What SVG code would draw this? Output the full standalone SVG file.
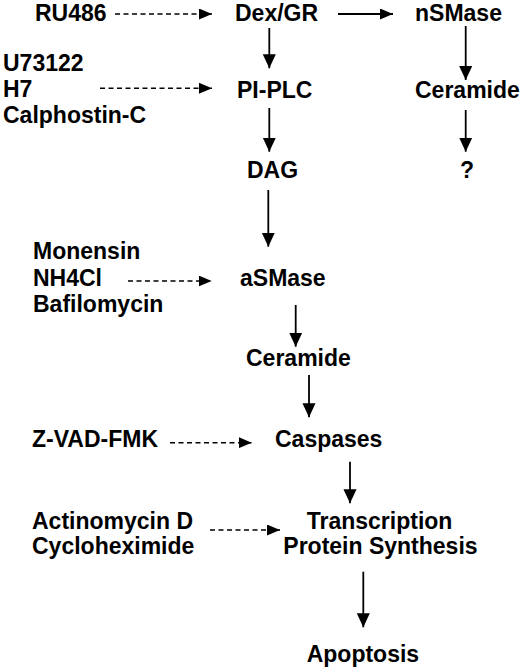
<svg xmlns="http://www.w3.org/2000/svg" width="520" height="670" viewBox="0 0 520 670">
<style>
text{font-family:"Liberation Sans",Arial,Helvetica,sans-serif;font-weight:bold;font-size:23px;fill:#000}
.s{stroke:#000;stroke-width:1.8;fill:none}
.d{stroke:#000;stroke-width:1.5;fill:none;stroke-dasharray:5 3.5}
.v{marker-end:url(#av)}
.h{marker-end:url(#ah)}
</style>
<defs>
<marker id="av" markerUnits="userSpaceOnUse" markerWidth="14" markerHeight="16" viewBox="0 0 15 14" refX="15" refY="7" orient="auto"><path d="M0,0L15,7L0,14Z" fill="#000"/></marker>
<marker id="ah" markerUnits="userSpaceOnUse" markerWidth="13" markerHeight="11" viewBox="0 0 13 11" refX="13" refY="5.5" orient="auto"><path d="M0,0L13,5.5L0,11Z" fill="#000"/></marker>
</defs>
<rect width="520" height="670" fill="#fff"/>
<g id="connectors">
<path class="d h" d="M115,14H212"/>
<path class="s h" d="M338,14H393"/>
<path class="d h" d="M100,88.3H212"/>
<path class="d h" d="M128,281H211.7"/>
<path class="d h" d="M170,442.7H251.7"/>
<path class="d h" d="M210,530H280"/>
<path class="s v" d="M269.3,28V68.3"/>
<path class="s v" d="M269.3,108V151.7"/>
<path class="s v" d="M268.3,190V246.7"/>
<path class="s v" d="M295.7,305V346.7"/>
<path class="s v" d="M309,375V417.3"/>
<path class="s v" d="M350,461.7V503.3"/>
<path class="s v" d="M363.3,571.7V627.3"/>
<path class="s v" d="M465.7,26V80"/>
<path class="s v" d="M465.7,110V151.7"/>
</g>
<g id="ru486"><text x="35" y="21">RU486</text></g>
<g id="dexgr"><text x="235" y="21">Dex/GR</text></g>
<g id="nsmase"><text x="415" y="21">nSMase</text></g>
<g id="plc-inhibitors"><text x="3" y="71">U73122</text><text x="3" y="97">H7</text><text x="3" y="123">Calphostin-C</text></g>
<g id="piplc"><text x="237" y="98">PI-PLC</text></g>
<g id="ceramide-n"><text x="415" y="98">Ceramide</text></g>
<g id="dag"><text x="247" y="178">DAG</text></g>
<g id="unknown"><text x="460" y="178">?</text></g>
<g id="lysosome-inhibitors"><text x="33" y="259.3">Monensin</text><text x="33" y="286">NH4Cl</text><text x="33" y="311.7">Bafilomycin</text></g>
<g id="asmase"><text x="240" y="286">aSMase</text></g>
<g id="ceramide-a"><text x="246" y="366">Ceramide</text></g>
<g id="zvad"><text x="32" y="447.3">Z-VAD-FMK</text></g>
<g id="caspases"><text x="275" y="447.3">Caspases</text></g>
<g id="synthesis-inhibitors"><text x="32" y="529">Actinomycin D</text><text x="32" y="554">Cycloheximide</text></g>
<g id="transcription"><text x="306.7" y="529">Transcription</text><text x="283.3" y="554">Protein Synthesis</text></g>
<g id="apoptosis"><text x="306.7" y="662.3">Apoptosis</text></g>
</svg>
